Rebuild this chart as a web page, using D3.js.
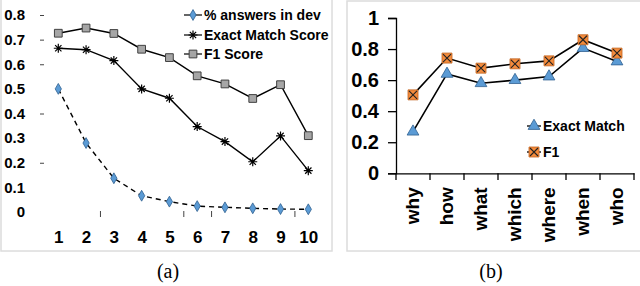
<!DOCTYPE html>
<html>
<head>
<meta charset="utf-8">
<script src="https://cdn.jsdelivr.net/npm/d3@7"></script>
<style>
  body { margin: 0; background: #fff; }
  svg text { font-family: "Liberation Sans", Arial, sans-serif; font-weight: 700; fill: #000; }
  .cap { font-family: "Liberation Serif", "DejaVu Serif", serif; font-weight: normal; }
</style>
</head>
<body>
<div id="chart"></div>
<script>
// ---- data, panel (a)
let ranks = [1, 2, 3, 4, 5, 6, 7, 8, 9, 10];
let pctAnswers = [0.50, 0.28, 0.137, 0.066, 0.042, 0.024, 0.019, 0.015, 0.012, 0.011];
let exactMatchA = [0.665, 0.659, 0.615, 0.50, 0.462, 0.347, 0.286, 0.204, 0.309, 0.168];
let f1A = [0.726, 0.747, 0.725, 0.661, 0.627, 0.553, 0.52, 0.461, 0.517, 0.31];
let yTicksA = [0, 0.1, 0.2, 0.3, 0.4, 0.5, 0.6, 0.7, 0.8];
let yMarksA = [0.2, 0.4, 0.6, 0.7, 0.8];
let xMarksA = [2.5, 5.5, 6.5, 9.5];

// ---- data, panel (b)
let qTypes = ["why", "how", "what", "which", "where", "when", "who"];
let exactMatchB = [0.268, 0.64, 0.58, 0.60, 0.623, 0.806, 0.72];
let f1B = [0.505, 0.742, 0.677, 0.705, 0.724, 0.86, 0.774];
let yTicksB = [0, 0.2, 0.4, 0.6, 0.8, 1];

let blue = "#5b9bd5", blueDark = "#2f5f8f", orange = "#f38b3c", gray = "#a6a6a6";

let svg = d3.select("#chart").append("svg")
    .attr("width", 640)
    .attr("height", 286);

// frames
svg.append("rect").attr("x", 1).attr("y", -2).attr("width", 331).attr("height", 253)
    .attr("fill", "none").attr("stroke", "#dcdcdc").attr("stroke-width", 1.5);
svg.append("rect").attr("x", 347).attr("y", 1).attr("width", 300).attr("height", 250)
    .attr("fill", "none").attr("stroke", "#dcdcdc").attr("stroke-width", 1.5);

// ================= panel (a)
let xA = d3.scaleLinear().domain([1, 10]).range([58.3, 308.3]);
let yA = d3.scaleLinear().domain([0, 0.8]).range([212, 15]);

// y labels
svg.append("g")
    .attr("transform", "translate(25,0)")
    .call(d3.axisLeft(yA).tickValues(yTicksA).tickSize(0).tickPadding(0)
        .tickFormat(d => d === 0 ? "0" : d3.format(".1f")(d)))
    .call(g => g.select(".domain").remove())
    .call(g => g.selectAll("text").attr("text-anchor", "end").style("font-size", "15px"));

// little y tick marks
svg.append("g")
    .attr("transform", "translate(44,0)")
    .call(d3.axisLeft(yA).tickValues(yMarksA).tickSize(4).tickFormat(""))
    .call(g => g.select(".domain").remove())
    .call(g => g.selectAll("line").attr("stroke", "#444"));

// x labels
svg.append("g")
    .attr("transform", "translate(0,231)")
    .call(d3.axisBottom(xA).tickValues(ranks).tickSize(0).tickPadding(0).tickFormat(d3.format("d")))
    .call(g => g.select(".domain").remove())
    .call(g => g.selectAll("text").style("font-size", "17px"));

// x tick marks
svg.append("g")
    .attr("transform", "translate(0,211)")
    .call(d3.axisBottom(xA).tickValues(xMarksA).tickSize(6).tickFormat(""))
    .call(g => g.select(".domain").remove())
    .call(g => g.selectAll("line").attr("stroke", "#444"));

function lineA(vals) {
    return d3.line().x((d, i) => xA(ranks[i])).y(d => yA(d))(vals);
}

svg.append("path").attr("d", lineA(pctAnswers)).attr("fill", "none")
    .attr("stroke", "#000").attr("stroke-width", 1.4).attr("stroke-dasharray", "5,4");
svg.append("path").attr("d", lineA(exactMatchA)).attr("fill", "none")
    .attr("stroke", "#000").attr("stroke-width", 1.4);
svg.append("path").attr("d", lineA(f1A)).attr("fill", "none")
    .attr("stroke", "#000").attr("stroke-width", 1.4);

let diamond = d3.symbol().type(d3.symbolDiamond).size(34);
let square = d3.symbol().type(d3.symbolSquare).size(60);
let triangle = d3.symbol().type(d3.symbolTriangle).size(60);
let bigSquare = d3.symbol().type(d3.symbolSquare).size(100);

function star(g, s) {
    let p = "M" + (-s) + ",0H" + s + "M" + (-s * 0.7) + "," + (-s * 0.7) + "L" + (s * 0.7) + "," + (s * 0.7)
        + "M" + (-s * 0.7) + "," + (s * 0.7) + "L" + (s * 0.7) + "," + (-s * 0.7) + "M0," + (-s) + "V" + s;
    g.append("path").attr("d", p).attr("stroke", "#000").attr("stroke-width", 1.2).attr("fill", "none");
}

svg.selectAll(".dia").data(pctAnswers).join("path")
    .attr("transform", (d, i) => "translate(" + xA(ranks[i]) + "," + yA(d) + ")")
    .attr("d", diamond).attr("fill", blue).attr("stroke", blueDark).attr("stroke-width", 0.8);

exactMatchA.forEach((d, i) => {
    star(svg.append("g").attr("transform", "translate(" + xA(ranks[i]) + "," + yA(d) + ")"), 4.5);
});

svg.selectAll(".sq").data(f1A).join("path")
    .attr("transform", (d, i) => "translate(" + xA(ranks[i]) + "," + yA(d) + ")")
    .attr("d", square).attr("fill", gray).attr("stroke", "#404040").attr("stroke-width", 1);

// legend (a)
let legA = [
    {name: "% answers in dev", y: 15, mark: "dia"},
    {name: "Exact Match Score", y: 35, mark: "star"},
    {name: "F1 Score", y: 54, mark: "sq"}
];
legA.forEach(l => {
    let g = svg.append("g").attr("transform", "translate(193," + l.y + ")");
    g.append("line").attr("x1", -9).attr("x2", 9).attr("stroke", "#000").attr("stroke-width", 1.2);
    if (l.mark === "dia") g.append("path").attr("d", diamond).attr("fill", blue).attr("stroke", blueDark).attr("stroke-width", 0.8);
    if (l.mark === "star") star(g, 4.5);
    if (l.mark === "sq") g.append("path").attr("d", square).attr("fill", gray).attr("stroke", "#404040");
    g.append("text").attr("x", 11).attr("dy", "0.35em").style("font-size", "14px").text(l.name);
});

// ================= panel (b)
let xB = d3.scaleBand().domain(qTypes).range([396, 634]);
let yB = d3.scaleLinear().domain([0, 1]).range([173.3, 18]);

svg.append("g")
    .attr("transform", "translate(396,0)")
    .call(d3.axisLeft(yB).tickValues(yTicksB).tickSize(8).tickPadding(9)
        .tickFormat(d => d === 0 || d === 1 ? String(d) : d3.format(".1f")(d)))
    .call(g => g.selectAll("line, .domain").attr("stroke", "#000").attr("stroke-width", 1.3))
    .call(g => g.selectAll("text").style("font-size", "20px"));

svg.append("g")
    .attr("transform", "translate(0,173.3)")
    .call(d3.axisBottom(xB).tickSize(0).tickPadding(0).tickSizeOuter(0))
    .call(g => g.select(".domain").attr("stroke", "#000").attr("stroke-width", 1.3))
    .call(g => g.selectAll("text")
        .style("font-size", "19px")
        .attr("text-anchor", "end")
        .attr("transform", "rotate(-90)")
        .attr("x", -14).attr("y", 0).attr("dy", "0.3em"));

// tick marks between categories
let bounds = qTypes.map(q => xB(q)).concat([xB.range()[1]]);
svg.selectAll(".bt").data(bounds).join("line")
    .attr("x1", d => d).attr("x2", d => d)
    .attr("y1", 173.3).attr("y2", 180)
    .attr("stroke", "#000").attr("stroke-width", 1.3);

function lineB(vals) {
    return d3.line().x((d, i) => xB(qTypes[i]) + xB.bandwidth() / 2).y(d => yB(d))(vals);
}

svg.append("path").attr("d", lineB(exactMatchB)).attr("fill", "none").attr("stroke", "#000").attr("stroke-width", 1.6);
svg.append("path").attr("d", lineB(f1B)).attr("fill", "none").attr("stroke", "#000").attr("stroke-width", 1.6);

svg.selectAll(".tri").data(exactMatchB).join("path")
    .attr("transform", (d, i) => "translate(" + (xB(qTypes[i]) + xB.bandwidth() / 2) + "," + yB(d) + ")")
    .attr("d", triangle).attr("fill", blue).attr("stroke", blueDark).attr("stroke-width", 0.8);

function xSquare(g) {
    g.append("path").attr("d", bigSquare).attr("fill", orange).attr("stroke", "#c0631f").attr("stroke-width", 0.8);
    g.append("path").attr("d", "M-4,-4L4,4M-4,4L4,-4").attr("stroke", "#222").attr("stroke-width", 1.1);
}

f1B.forEach((d, i) => {
    xSquare(svg.append("g").attr("transform", "translate(" + (xB(qTypes[i]) + xB.bandwidth() / 2) + "," + yB(d) + ")"));
});

// legend (b)
let gl1 = svg.append("g").attr("transform", "translate(534,126)");
gl1.append("line").attr("x1", -7).attr("x2", 7).attr("stroke", "#000").attr("stroke-width", 1.3);
gl1.append("path").attr("d", triangle).attr("fill", blue).attr("stroke", blueDark).attr("stroke-width", 0.8);
gl1.append("text").attr("x", 9).attr("dy", "0.35em").style("font-size", "14px").text("Exact Match");

let gl2 = svg.append("g").attr("transform", "translate(534,152)");
gl2.append("line").attr("x1", -7).attr("x2", 7).attr("stroke", "#000").attr("stroke-width", 1.3);
xSquare(gl2);
gl2.append("text").attr("x", 9).attr("dy", "0.35em").style("font-size", "14px").text("F1");

// captions
svg.append("text").attr("class", "cap").attr("x", 168).attr("y", 278)
    .attr("text-anchor", "middle").style("font-size", "20px").text("(a)");
svg.append("text").attr("class", "cap").attr("x", 491).attr("y", 278)
    .attr("text-anchor", "middle").style("font-size", "20px").text("(b)");
</script>
</body>
</html>
